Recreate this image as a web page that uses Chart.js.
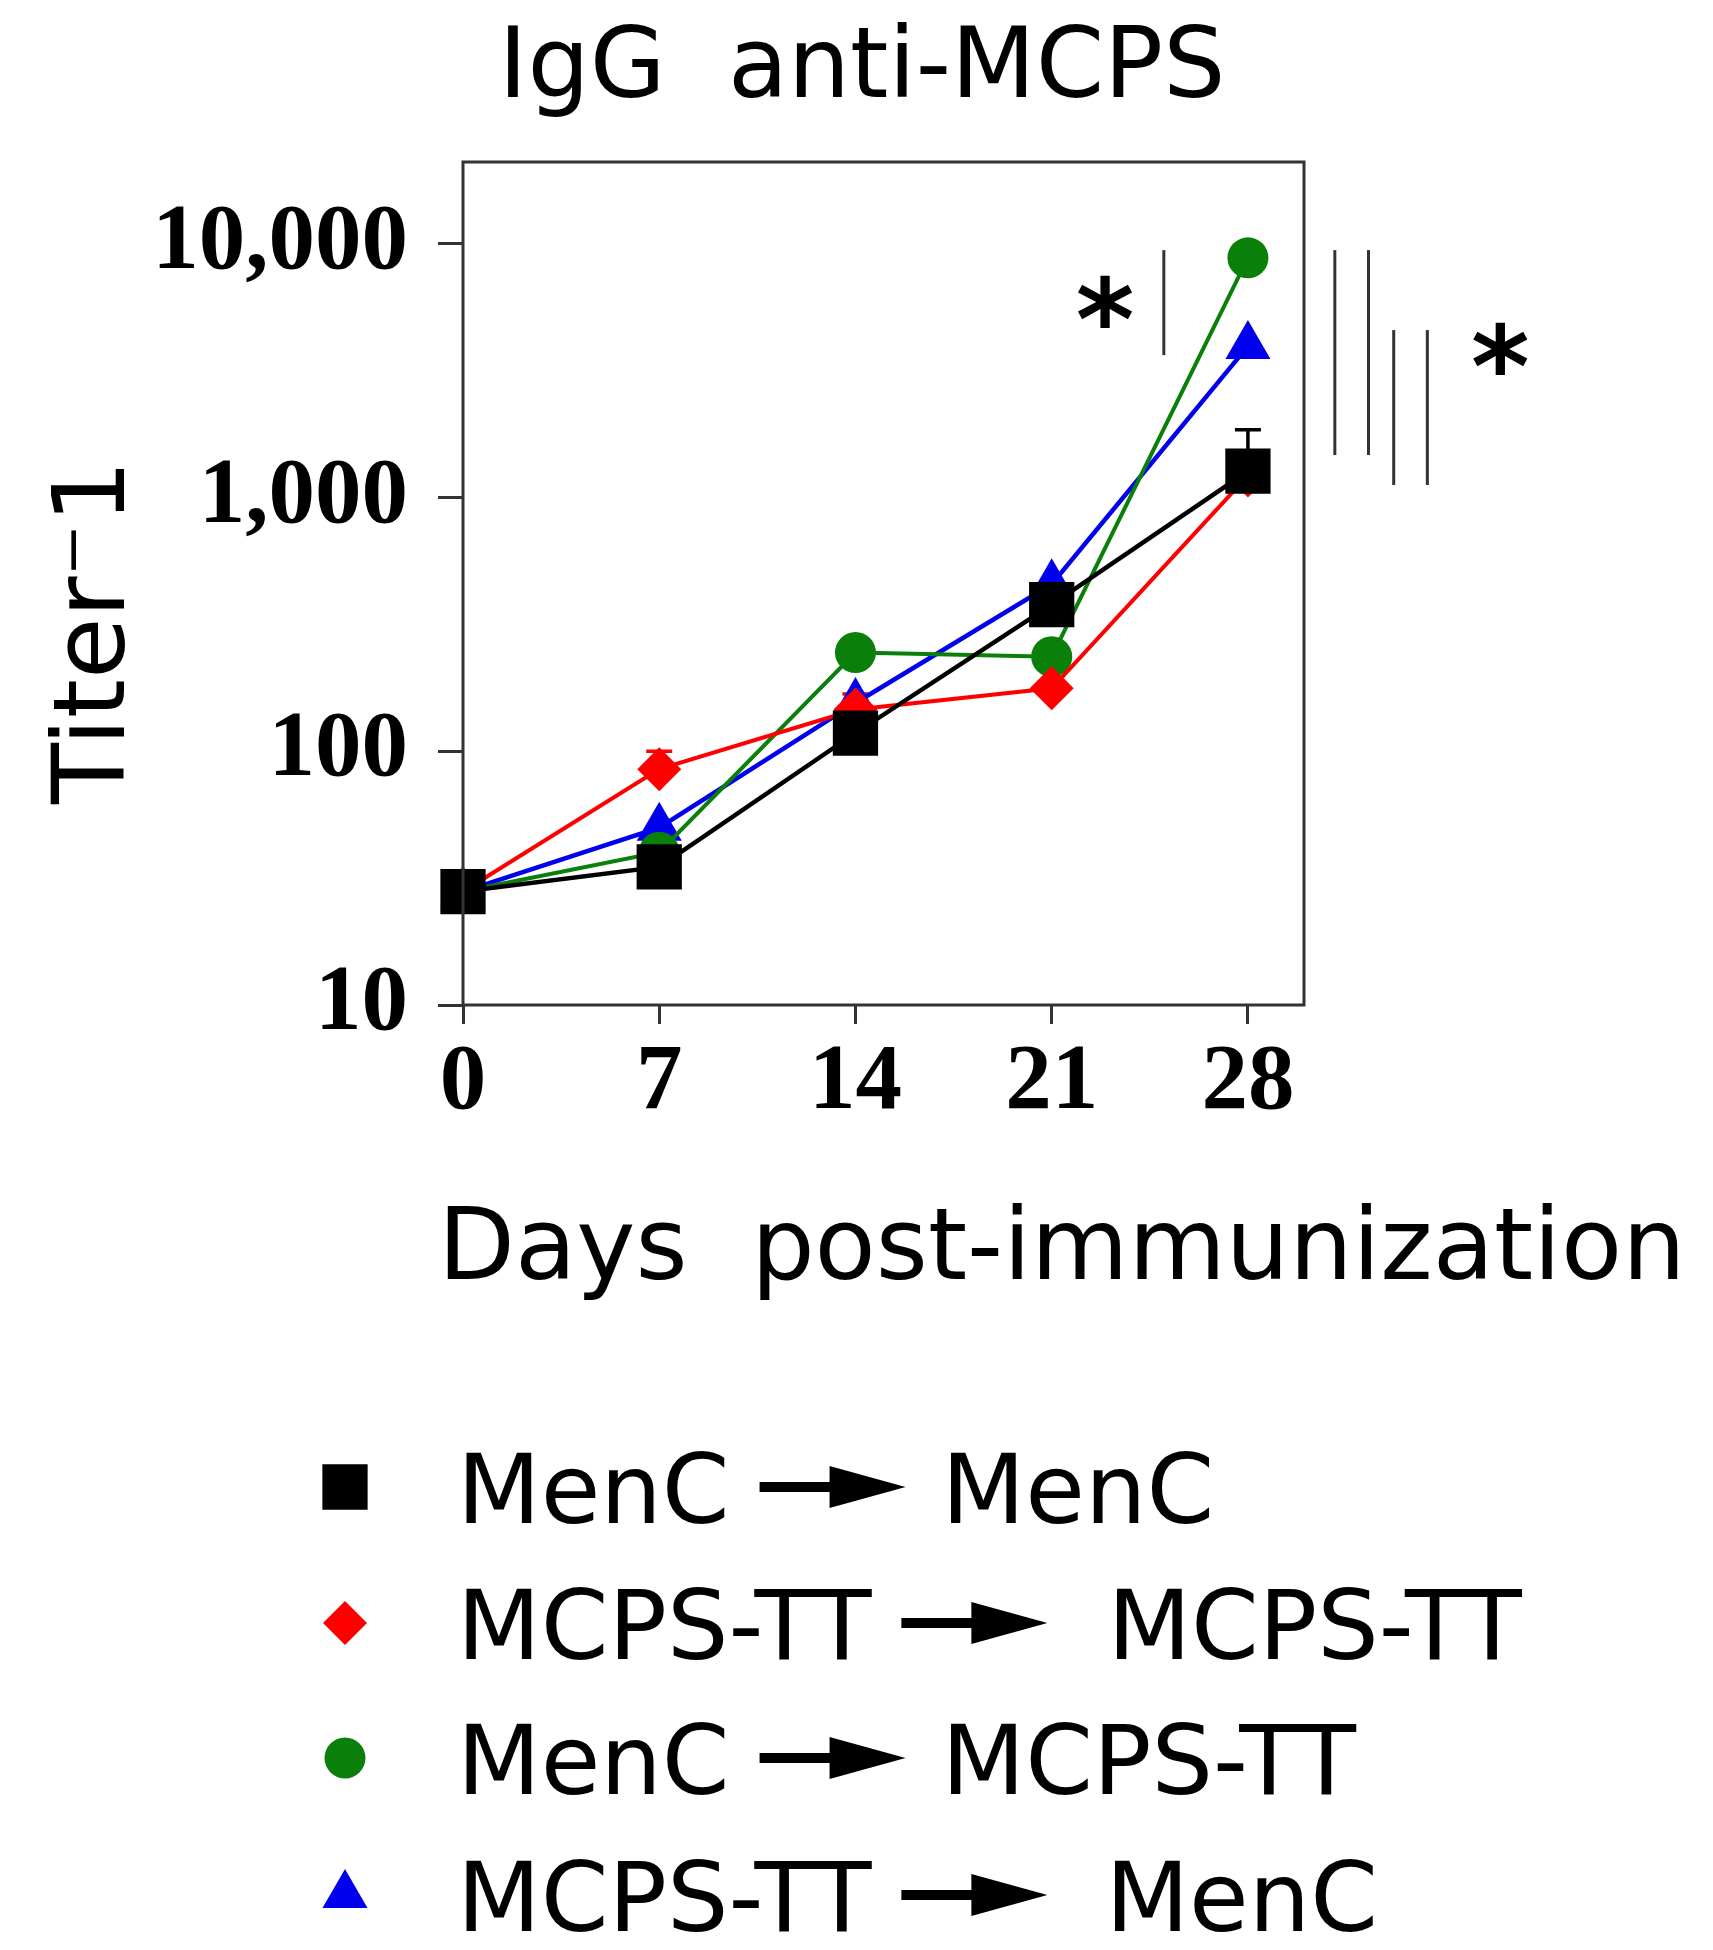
<!DOCTYPE html>
<html>
<head>
<meta charset="utf-8">
<script src="https://cdn.jsdelivr.net/npm/chart.js@4.4.1/dist/chart.umd.min.js"></script>
<style>
  body { margin: 0; background: #fff; }
  #wrap { width: 1713px; height: 1950px; position: relative; }
</style>
</head>
<body>
<div id="wrap"><canvas id="myChart"></canvas></div>
<script>
// data
const days = [0, 7, 14, 21, 28];
const menc_menc = [28, 35, 118, 378, 1270];
const mcps_mcps = [28, 85, 146, 177, 1220];
const menc_mcps = [28, 40, 245, 236, 8800];
const mcps_menc = [28, 50, 155, 455, 3950];

// upper error bars (only the ones visible in the figure)
const menc_menc_err = [null, null, null, null, 1850];
const mcps_mcps_err = [null, 100, 168, null, null];
const menc_mcps_err = [null, null, null, null, null];
const mcps_menc_err = [null, null, null, null, null];

const yTicks = [10, 100, 1000, 10000];
const xTicks = [0, 7, 14, 21, 28];

const seriesLabels = ["MenC → MenC", "MCPS-TT → MCPS-TT", "MenC → MCPS-TT", "MCPS-TT → MenC"];

// significance brackets (day, top value, bottom value)
const sigLines = [
    [25.0, 9440, 3640],
    [31.1, 9440, 1470],
    [32.3, 9440, 1470],
    [33.2, 4570, 1120],
    [34.4, 4570, 1120],
];
const sigStars = [
    [22.9, 5750],
    [37.0, 3740],
];

const toPts = (vals) => days.map((d, i) => ({ x: d, y: vals[i] }));

const data = {
    datasets: [
        {
            label: seriesLabels[0],
            data: toPts(menc_menc),
            err: menc_menc_err,
            borderColor: "#000000",
            backgroundColor: "#000000",
            pointStyle: "rect",
            pointRadius: 32,
            borderWidth: 4.5,
        },
        {
            label: seriesLabels[1],
            data: toPts(mcps_mcps),
            err: mcps_mcps_err,
            borderColor: "#ff0000",
            backgroundColor: "#ff0000",
            pointStyle: "rectRot",
            pointRadius: 22,
            borderWidth: 4,
        },
        {
            label: seriesLabels[2],
            data: toPts(menc_mcps),
            err: menc_mcps_err,
            borderColor: "#0a7f0a",
            backgroundColor: "#0a7f0a",
            pointStyle: "circle",
            pointRadius: 20.5,
            borderWidth: 4,
        },
        {
            label: seriesLabels[3],
            data: toPts(mcps_menc),
            err: mcps_menc_err,
            borderColor: "#0000ee",
            backgroundColor: "#0000ee",
            pointStyle: "triangle",
            pointRadius: 26,
            borderWidth: 4.5,
        },
    ],
};
data.datasets.forEach((ds) => {
    ds.clip = false;
    ds.tension = 0;
    ds.pointBorderWidth = 0;
    ds.pointHoverRadius = ds.pointRadius;
});

// error bars drawn behind the markers
const errorBars = {
    id: "errorBars",
    beforeDatasetsDraw(chart) {
        const { ctx, scales: { x, y } } = chart;
        ctx.save();
        ctx.lineWidth = 3.5;
        chart.data.datasets.forEach((ds) => {
            ctx.strokeStyle = ds.borderColor;
            ds.err.forEach((up, i) => {
                if (up == null) return;
                const px = x.getPixelForValue(ds.data[i].x);
                const py0 = y.getPixelForValue(ds.data[i].y);
                const py1 = y.getPixelForValue(up);
                ctx.beginPath();
                ctx.moveTo(px, py0);
                ctx.lineTo(px, py1);
                ctx.moveTo(px - 13, py1);
                ctx.lineTo(px + 13, py1);
                ctx.stroke();
            });
        });
        ctx.restore();
    },
};

// frame, titles, significance marks and legend
const extras = {
    id: "extras",
    afterDraw(chart) {
        const { ctx, chartArea: { left, top, right, bottom }, scales: { x, y } } = chart;
        ctx.save();

        // frame
        ctx.strokeStyle = "#333";
        ctx.lineWidth = 3;
        ctx.strokeRect(left, top, right - left, bottom - top);

        ctx.fillStyle = "#000";
        ctx.textBaseline = "alphabetic";

        // title
        ctx.font = "98px 'DejaVu Sans'";
        ctx.textAlign = "center";
        ctx.fillText("IgG  anti-MCPS", 862, 97);

        // x title
        ctx.font = "100px 'DejaVu Sans'";
        ctx.textAlign = "left";
        ctx.fillText("Days  post-immunization", left - 25, 1279);

        // y title
        ctx.save();
        ctx.translate(124, 632);
        ctx.rotate(-Math.PI / 2);
        ctx.textAlign = "center";
        ctx.fillText("Titer\u207B1", 0, 0);
        ctx.restore();

        // significance lines and stars
        ctx.strokeStyle = "#333";
        ctx.lineWidth = 3;
        sigLines.forEach(([d, v0, v1]) => {
            const px = x.getPixelForValue(d);
            ctx.beginPath();
            ctx.moveTo(px, y.getPixelForValue(v0));
            ctx.lineTo(px, y.getPixelForValue(v1));
            ctx.stroke();
        });
        ctx.font = "bold 112px 'DejaVu Sans'";
        ctx.textAlign = "center";
        sigStars.forEach(([d, v]) => {
            ctx.fillText("*", x.getPixelForValue(d), y.getPixelForValue(v) + 54);
        });

        // legend
        const rowY = [1487, 1623, 1758, 1895];
        const gapAfter = [36, 60, 36, 58];
        ctx.font = "97px 'DejaVu Sans'";
        chart.data.datasets.forEach((ds, i) => {
            const cy = rowY[i];
            ctx.fillStyle = ds.backgroundColor;
            Chart.helpers.drawPoint(ctx, {
                pointStyle: ds.pointStyle,
                radius: ds.pointRadius,
                borderWidth: 0,
            }, 345, cy);
            ctx.fillStyle = "#000";
            ctx.textAlign = "left";
            const parts = ds.label.split("→").map((s) => s.trim());
            const baseY = cy + 36;
            ctx.fillText(parts[0], 457, baseY);
            const ax = 457 + ctx.measureText(parts[0]).width + 30;
            // arrow
            ctx.strokeStyle = "#000";
            ctx.lineWidth = 10;
            ctx.beginPath();
            ctx.moveTo(ax, cy);
            ctx.lineTo(ax + 75, cy);
            ctx.stroke();
            ctx.beginPath();
            ctx.moveTo(ax + 70, cy - 21);
            ctx.lineTo(ax + 146, cy);
            ctx.lineTo(ax + 70, cy + 21);
            ctx.closePath();
            ctx.fill();
            ctx.fillText(parts[1], ax + 146 + gapAfter[i], baseY);
        });

        ctx.restore();
    },
};

const tickFont = { family: "'Liberation Serif'", size: 93, weight: "bold" };

const config = {
    type: "line",
    data,
    options: {
        responsive: true,
        maintainAspectRatio: false,
        animation: false,
        layout: {
            padding: { left: 0, right: 409, top: 162, bottom: 0 },
        },
        plugins: {
            legend: { display: false },
            title: { display: false },
            tooltip: { enabled: false },
        },
        scales: {
            x: {
                type: "linear",
                min: 0,
                max: 30,
                afterBuildTicks: (scale) => {
                    scale.ticks = xTicks.map((v) => ({ value: v }));
                },
                afterFit: (scale) => {
                    scale.height = 945;
                },
                border: { display: false },
                grid: {
                    drawOnChartArea: false,
                    drawTicks: true,
                    tickLength: 19,
                    tickWidth: 3,
                    tickColor: "#333",
                },
                ticks: {
                    color: "#000",
                    font: tickFont,
                    padding: 4,
                    maxRotation: 0,
                    autoSkip: false,
                    callback: (v) => v,
                },
            },
            y: {
                type: "logarithmic",
                min: 10,
                max: 21000,
                afterBuildTicks: (scale) => {
                    scale.ticks = yTicks.map((v) => ({ value: v }));
                },
                afterFit: (scale) => {
                    scale.width = 463;
                },
                border: { display: false },
                grid: {
                    drawOnChartArea: false,
                    drawTicks: true,
                    tickLength: 25,
                    tickWidth: 3,
                    tickColor: "#333",
                },
                ticks: {
                    color: "#000",
                    font: tickFont,
                    padding: 30,
                    autoSkip: false,
                    callback: (v) => v.toLocaleString("en-US"),
                },
            },
        },
    },
    plugins: [errorBars, extras],
};

const myChart = new Chart(document.getElementById("myChart"), config);
</script>
</body>
</html>
